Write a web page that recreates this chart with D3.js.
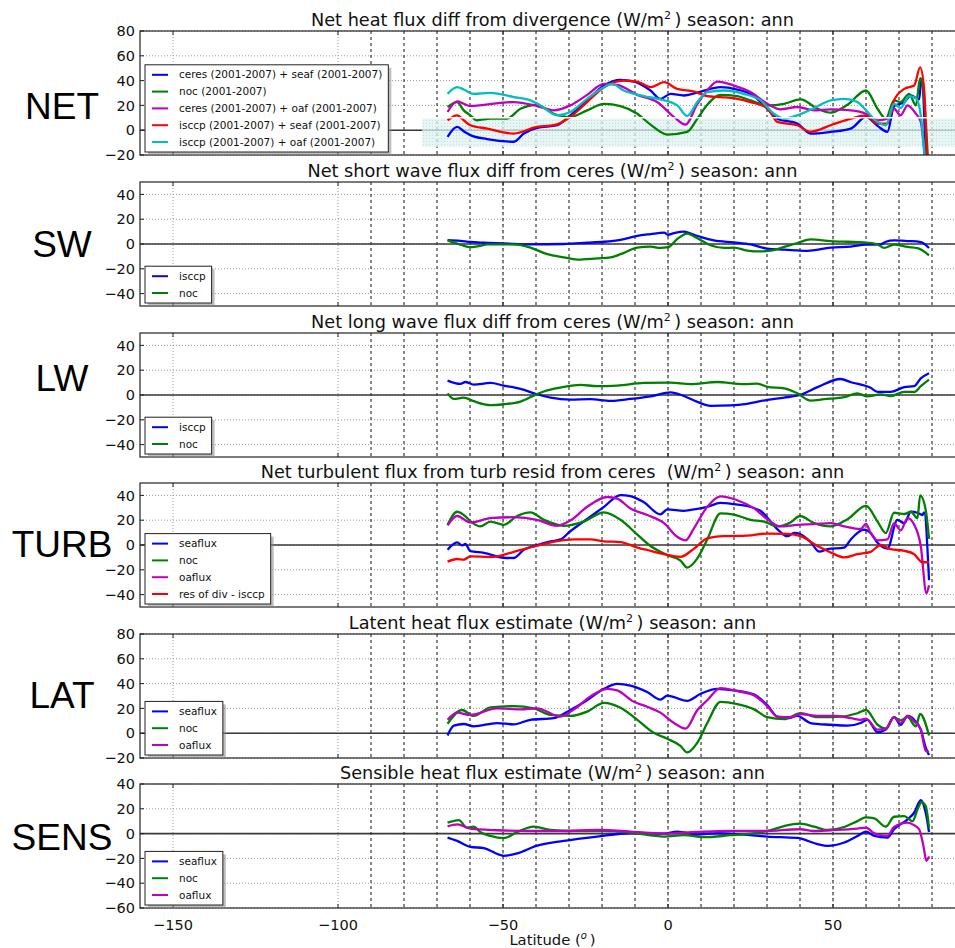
<!DOCTYPE html>
<html>
<head>
<meta charset="utf-8">
<script src="https://cdn.jsdelivr.net/npm/d3@7"></script>
<style>
  body { margin: 0; background: #fff; }
  svg { display: block; font-family: "DejaVu Sans", sans-serif; }
</style>
</head>
<body>
<div id="chart"></div>
<script>
// ---- values: [latitude, W/m2] ----
const netCeresSeaf = [[-66.8,-5.3],[-63.9,2.7],[-61.9,-0.8],[-59.9,-4],[-54.8,-7.2],[-46.7,-9.3],[-43.7,-2.7],[-39.7,1.9],[-33.6,4],[-29.6,12],[-24.5,24],[-19.4,36],[-14.4,40.5],[-10.3,39.2],[-5.3,32],[-2.3,25.3],[0.8,29.3],[4.8,28],[9.9,31.2],[15.9,34.7],[21,32.8],[25,29.3],[30.1,17.3],[33.1,9.3],[39.2,5.3],[43.2,-2.7],[49.3,-1.3],[55.4,1.3],[60,10.7],[63.5,3.5],[66.5,-1.3],[68.5,19.5],[71.6,22.7],[73.6,28],[76.1,24.8],[76.8,41.3],[78.3,-40]];
const netNoc = [[-66.8,18.7],[-63.9,22.7],[-61.9,16],[-59.9,12],[-57.9,8],[-53.8,9.3],[-48.8,9.3],[-44.7,17.3],[-39.7,20.5],[-34.6,13.3],[-29.6,10.7],[-24.5,16],[-19.4,21.3],[-14.4,19.5],[-9.3,13.3],[-5.3,4.5],[-0.2,-3.5],[5.8,-1.3],[8.9,9.3],[11.9,20.5],[15.9,28.5],[21,27.5],[25,24],[30.1,20],[35.2,21.3],[40.2,24.8],[45.3,17.3],[49.3,14.1],[54.4,20.5],[60,32],[63.5,17.3],[66,9.3],[68.5,24],[70.5,22.7],[73.1,29.3],[75.1,20],[76.4,41.9],[77.6,25.3],[79.1,-40]];
const netCeresOaf = [[-66.8,14.7],[-63.9,23.2],[-61.9,21.3],[-59.9,19.5],[-55.8,20.5],[-46.7,22.7],[-39.7,19.5],[-34.6,16],[-29.6,20],[-24.5,28.5],[-19.4,37.3],[-15.4,36.5],[-9.3,28.5],[-3.3,22.7],[1.8,10.7],[5.3,4.5],[8.9,21.3],[11.9,32],[14.9,39.2],[20,36],[25,30.7],[30.1,21.3],[34.1,16.8],[39.2,18.7],[44.3,16],[49.3,16.8],[55.4,16],[60,13.3],[63.5,8],[66.5,9.3],[68.5,17.3],[70.5,12],[72.6,20],[75.1,13.3],[76.6,6.7],[78.3,-40]];
const netIsccpSeaf = [[-66.8,8],[-63.9,12],[-61.9,8],[-59.9,4],[-54.8,1.3],[-46.7,-2.7],[-39.7,2.7],[-34.6,4],[-29.6,10.7],[-24.5,22.7],[-19.4,34.7],[-13.4,40],[-9.3,39.2],[-5.3,34.7],[-1.2,38.7],[2.8,33.3],[7.9,31.2],[11.9,27.5],[15.9,26.7],[21,25.3],[25,22.7],[30.1,17.9],[33.1,6.7],[39.2,4],[43.2,-1.3],[49.3,4],[55.4,9.3],[60,12],[63.5,5.3],[66.5,5.3],[68.5,24],[71.6,33.3],[74.6,36],[76.4,50.7],[77.6,33.3],[78.6,-40]];
const netIsccpOaf = [[-66.8,29.3],[-63.9,34.7],[-61.9,32.8],[-58.9,29.3],[-53.8,30.1],[-46.7,26.7],[-41.7,24],[-38.7,20],[-33.6,12],[-29.6,14.7],[-24.5,25.3],[-19.4,34.7],[-16.9,37.3],[-13.4,32],[-7.3,27.5],[-2.3,24.8],[2.8,20],[5.8,11.5],[8.9,22.7],[11.9,30.7],[16.9,32],[23,29.3],[28.1,24],[32.1,13.3],[35.2,9.3],[39.2,12],[44.3,17.9],[49.3,24],[53.4,25.3],[57.4,22.7],[60,16],[63.5,6.7],[66,4],[68.5,21.3],[70.5,17.9],[73.1,27.5],[75.1,25.9],[76.6,12],[78.3,-40]];
const netBandLat = [-74.5, 90];
const netBandVal = [-13.5, 10];

const swIsccp = [[-66.8,3.2],[-63,2.6],[-59.9,1.6],[-55.8,1],[-49.8,0.5],[-41.7,-0.3],[-31.6,0],[-24.5,1],[-19.4,1.8],[-14.4,3.4],[-9.3,6.6],[-5.3,8],[-1.2,9.2],[0,7.4],[1.8,8.7],[4.8,10],[7.9,7.4],[10.1,5.5],[13.9,2.9],[20,1.3],[25,-0.3],[30.1,-3.7],[35.2,-4.5],[42.2,-5.5],[49.3,-2.9],[55.4,-2.1],[60,-0.5],[64.5,-0.3],[66,1.8],[68.5,2.9],[72.6,2.4],[76.6,1.6],[79.1,-3.2]];
const swNoc = [[-66.8,2.9],[-62.9,-0.5],[-59.9,-2.6],[-56.9,-1.6],[-54.8,-0.3],[-49.8,-0.3],[-45.7,-0.5],[-41.7,-2.9],[-36.6,-8.2],[-31.6,-10.8],[-27.5,-12.6],[-21.5,-11.6],[-17.4,-10.8],[-13.4,-7.1],[-9.3,-2.9],[-5.3,-2.1],[-2.3,-3.2],[0,-2.6],[2.8,4],[5.8,8.4],[8.9,4.7],[12.9,-1],[17,-3.2],[20,-2.9],[24,-5.3],[28.1,-6],[31.1,-5.3],[35.2,-2.4],[39.2,0.8],[43.2,3.7],[49.3,2.4],[54.4,1.8],[59.4,1.3],[63.5,-0.3],[65.5,-3.2],[68.5,-0.5],[72.6,-2.4],[75.6,-3.4],[79.1,-9.2]];

const lwIsccp = [[-66.8,11.6],[-62.9,8.9],[-61.4,10.5],[-58.9,8.4],[-53.8,9.7],[-49.8,7.6],[-44.7,5],[-39.9,0.8],[-35.6,-2.1],[-29.6,-3.7],[-23.5,-3.4],[-17.4,-4.7],[-11.4,-3.2],[-5.3,-1.1],[0.8,2.1],[4.8,-0.8],[8.9,-5.5],[12.9,-8.7],[19,-8.4],[24,-7.1],[30.1,-3.9],[35.2,-2.1],[40,0],[45.3,6.3],[52.3,12.9],[55.4,10.3],[61.4,5.8],[63.5,2.6],[67.5,2.6],[71.6,6.3],[74.6,7.1],[76.6,13.4],[79.1,17.6]];
const lwNoc = [[-66.8,1.3],[-64.9,-3.2],[-61.9,-2.1],[-58.9,-5],[-53.8,-8.2],[-49.8,-7.4],[-44.7,-5.3],[-39.9,0.5],[-36.6,3.7],[-31.6,6.6],[-26.5,8.2],[-21.5,7.1],[-15.4,7.6],[-7.3,9.7],[0.8,10],[6.8,8.7],[14.9,10.5],[23,8.7],[27.1,9.2],[30.1,6.6],[35.2,5.3],[39.2,1.3],[43.2,-4.5],[47.3,-3.4],[53.4,-1.8],[57.4,1.3],[60.4,-1.1],[64.5,0.5],[67.5,-0.8],[71.6,2.6],[74.6,2.4],[76.6,7.1],[79.1,12.4]];

const turbSeaflux = [[-66.8,-3.9],[-63.9,2.1],[-62.4,-0.3],[-61.4,0.8],[-59.9,-5],[-55.8,-6.3],[-49.8,-10.3],[-46.7,-10.5],[-43.7,-3.9],[-39.9,-0.3],[-35.6,2.9],[-32.6,4.5],[-29.6,11.1],[-24.5,21],[-19.4,30.8],[-14.4,40.3],[-11.4,39.5],[-7.3,34.5],[-2.3,24.7],[-0.2,28.7],[4.8,27.6],[8.9,29.2],[11.9,30.8],[15.9,33.9],[20,32.9],[25,30.8],[28.1,27.4],[33.1,12.9],[36.2,7.1],[38.2,9.7],[40.2,8.7],[43.2,2.4],[45.8,-5.3],[48.3,-3.4],[53.4,-2.1],[55.4,4.5],[59.4,12.4],[61.4,9.7],[63.5,1.8],[66.5,-2.9],[69.5,20.3],[71.6,17.6],[73.6,26.8],[75.6,26],[77.1,24.2],[77.6,26.3],[79.1,-28.4]];
const turbNoc = [[-66.8,16.3],[-63.9,26.8],[-61.9,24.2],[-59.4,18.2],[-56.9,15],[-53.8,18.9],[-49.8,16.3],[-45.7,23.4],[-41.7,26.3],[-37.6,20.3],[-31.6,15.5],[-25.5,18.9],[-19.4,26.3],[-14.4,20.3],[-9.3,8.4],[-5.3,-0.8],[-0.2,-8.2],[3.8,-12.6],[5.8,-18.2],[8.9,-10.8],[11.9,4.5],[15.9,25.5],[20,24.5],[25,20.3],[29.1,18.9],[33.1,15],[37.2,18.4],[40,23.4],[44.3,17.6],[49.3,15],[54.4,20.8],[60,31.6],[63.5,18.9],[66,9.7],[68.5,26],[71.6,25],[73.6,26.8],[75.6,21.6],[76.4,40],[78.1,28.2],[79.1,5]];
const turbOaflux = [[-66.8,15.8],[-63.9,23.4],[-59.9,18.2],[-53.8,21.6],[-46.7,22.4],[-39.7,20.3],[-33.6,15.5],[-29.6,19.7],[-24.5,30.8],[-18.4,38.7],[-15.4,37.4],[-11.4,29.5],[-6.3,24.2],[-1.2,17.6],[2.8,6.6],[5.3,3.7],[7.9,13.7],[11.9,30.8],[15.9,39.2],[21,36.1],[26.1,29.5],[30.1,20.8],[34.1,15],[39.2,16.3],[44.3,16.8],[49.3,17.6],[53.4,15],[58.4,12.9],[60,17.1],[61.4,9.7],[63.5,3.7],[66.5,4.5],[68.5,17.6],[70.5,11.8],[72.6,21.6],[74.6,16.3],[76.6,-0.8],[78.3,-38.9],[79.1,-32.4]];
const turbResid = [[-66.8,-13.4],[-63.9,-11.3],[-61.9,-11.8],[-59.9,-9.2],[-53.8,-9.7],[-46.7,-5.5],[-39.9,-0.8],[-33.6,3.2],[-28.5,4.5],[-23.5,4.5],[-19.4,2.9],[-14.4,2.4],[-9.3,-2.1],[-5.3,-4.7],[-1.2,-7.4],[3.8,-9.5],[7.9,-2.9],[11.9,5.3],[17,7.1],[24,7.6],[30.1,9.2],[36.2,8.9],[40.2,7.1],[45.3,-0.8],[49.3,-6],[53.4,-10],[57.4,-7.4],[61.4,-5.5],[64.5,0],[67.5,-3.4],[71.6,-4.7],[74.6,-7.4],[77.1,-13.9],[79.1,-13.9]];

const latSeaflux = [[-66.8,-1.8],[-64.9,6.1],[-61.9,7.4],[-58.9,5.5],[-51.8,8.2],[-46.7,7.1],[-41.7,10.8],[-34.6,12.1],[-29.6,18.7],[-24.5,26.6],[-19.4,35.8],[-15.4,39.7],[-11.4,38.4],[-6.3,33.2],[-2.3,27.1],[-0.2,30.3],[5.8,26.1],[9.9,31.8],[14.9,35.8],[20,34.5],[26.1,31.1],[30.1,22.6],[33.1,13.4],[36.2,12.1],[39.2,13.9],[43.2,8.2],[49.3,6.8],[54.4,6.1],[58.4,8.2],[60.4,10.8],[63.5,0.8],[66,2.9],[68.5,12.9],[70.5,6.8],[72.6,13.9],[74.6,10.8],[76.6,2.9],[78.1,-11.6],[79.1,-17.6]];
const latNoc = [[-66.8,7.6],[-62.4,18.7],[-58.9,13.9],[-53.8,20.8],[-46.7,21.8],[-40.7,20],[-35.6,14.7],[-29.6,13.9],[-24.5,17.4],[-19.4,24.5],[-14.4,20.5],[-9.3,10.8],[-4.3,0.3],[-0.2,-4.5],[3.8,-10.3],[5.8,-15.5],[8.9,-7.6],[11.9,8.2],[15.9,25.3],[21,23.4],[26.1,19.2],[30.1,12.9],[35.2,11.3],[40.2,16.1],[45.3,12.9],[52.3,13.4],[57.4,16.1],[60,18.7],[63.5,6.8],[66,3.7],[68.5,12.9],[70.5,10.3],[72.6,12.9],[75.1,5.5],[76.4,15.5],[79.1,-1.8]];
const latOaflux = [[-66.8,10.8],[-63.9,16.6],[-59.9,14.7],[-51.8,20],[-44.7,19.2],[-39.7,20],[-32.6,13.4],[-28.5,19.2],[-23.5,29.7],[-18.4,35.8],[-15.4,34.5],[-10.3,25.3],[-6.3,21.3],[-2.3,16.6],[1.8,8.2],[5.3,3.7],[8.9,18.7],[11.9,26.6],[15.9,36.3],[21,33.9],[26.1,30.5],[30.1,21.8],[33.1,13.4],[37.2,12.9],[40.2,15.5],[45.3,13.9],[50.3,13.9],[55.4,12.1],[58.4,10.8],[60,11.8],[63.5,2.9],[66,3.7],[68.5,12.9],[70.5,8.2],[72.6,13.9],[74.6,9.5],[76.6,2.9],[78.1,-14.2],[79.1,-15]];

const sensSeaflux = [[-66.8,-3.2],[-63.9,-5.9],[-59.9,-10.7],[-55.8,-11.7],[-49.8,-17.9],[-45.7,-16],[-39.9,-9.9],[-31.6,-5.9],[-21.5,-2.4],[-11.4,0.3],[-1.2,0],[2.8,1.6],[8.9,-0.8],[14.9,0.3],[21,-0.5],[30.1,-2.4],[39.2,-3.5],[45.3,-8.5],[48.3,-9.9],[53.4,-7.2],[57.4,-1.9],[60,1.6],[62.5,-1.9],[66.5,-3.2],[68.5,3.5],[72.6,11.5],[74.6,16.8],[76.6,26.9],[78.1,16.8],[79.1,1.3]];
const sensNoc = [[-66.8,8.8],[-63.4,10.9],[-60.9,4.8],[-58.9,5.6],[-56.9,1.3],[-53.8,-1.9],[-49.8,-3.7],[-45.7,1.3],[-40.7,5.6],[-35.6,2.9],[-29.6,2.1],[-19.4,2.1],[-11.4,0.8],[-1.2,-2.4],[4.8,-1.3],[10.9,-2.9],[19,-1.3],[25,0],[30.1,2.1],[35.2,6.1],[40,8],[44.3,5.6],[48.3,2.9],[53.4,5.3],[57.4,10.1],[60,13.1],[62.5,12.3],[66,5.6],[68.5,13.6],[71.6,14.1],[74.1,10.1],[75.6,19.5],[76.8,25.3],[78.1,22.1],[79.1,4.8]];
const sensOaflux = [[-66.8,5.9],[-63.9,7.5],[-59.9,4],[-51.8,2.7],[-41.7,2.1],[-31.6,2.1],[-21.5,2.9],[-11.4,1.6],[-1.2,0],[8.9,1.3],[19,2.1],[29.1,2.1],[40,3.5],[44.3,2.1],[49.3,2.7],[57.4,4],[60,4.8],[62.5,0.3],[66.5,-1.9],[68.5,5.3],[72.6,8.8],[74.6,6.7],[76.1,3.5],[77.4,-9.9],[78.3,-21.9],[79.1,-18.4]];

const xTicks = [-150, -100, -50, 0, 50];
const dashedLats = [-90, -80, -70, -60, -50, -40, -30, -20, -10, 0, 10, 20, 30, 40, 50, 60, 70, 80, 90];

const C = { b: '#0000ff', g: '#008000', m: '#bf00bf', r: '#ff0000', c: '#00bfbf' };

const panels = [
  { label: 'NET', labelY: 119, top: 31, yDomain: [-20, 80], yTicks: [-20, 0, 20, 40, 60, 80],
    title: ['Net heat flux diff from divergence (W/m', ') season: ann'],
    series: [
      { name: 'ceres (2001-2007) + seaf (2001-2007)', color: C.b, data: netCeresSeaf },
      { name: 'noc (2001-2007)', color: C.g, data: netNoc },
      { name: 'ceres (2001-2007) + oaf (2001-2007)', color: C.m, data: netCeresOaf },
      { name: 'isccp (2001-2007) + seaf (2001-2007)', color: C.r, data: netIsccpSeaf },
      { name: 'isccp (2001-2007) + oaf (2001-2007)', color: C.c, data: netIsccpOaf }
    ], band: true },
  { label: 'SW', labelY: 257, top: 182, yDomain: [-50, 50], yTicks: [-40, -20, 0, 20, 40],
    title: ['Net short wave flux diff from ceres (W/m', ') season: ann'],
    series: [
      { name: 'isccp', color: C.b, data: swIsccp },
      { name: 'noc', color: C.g, data: swNoc }
    ] },
  { label: 'LW', labelY: 391, top: 333, yDomain: [-50, 50], yTicks: [-40, -20, 0, 20, 40],
    title: ['Net long wave flux diff from ceres (W/m', ') season: ann'],
    series: [
      { name: 'isccp', color: C.b, data: lwIsccp },
      { name: 'noc', color: C.g, data: lwNoc }
    ] },
  { label: 'TURB', labelY: 557, top: 483, yDomain: [-50, 50], yTicks: [-40, -20, 0, 20, 40],
    title: ['Net turbulent flux from turb resid from ceres\u00a0 (W/m', ') season: ann'],
    series: [
      { name: 'seaflux', color: C.b, data: turbSeaflux },
      { name: 'noc', color: C.g, data: turbNoc },
      { name: 'oaflux', color: C.m, data: turbOaflux },
      { name: 'res of div - isccp', color: C.r, data: turbResid }
    ] },
  { label: 'LAT', labelY: 708, top: 634, yDomain: [-20, 80], yTicks: [-20, 0, 20, 40, 60, 80],
    title: ['Latent heat flux estimate (W/m', ') season: ann'],
    series: [
      { name: 'seaflux', color: C.b, data: latSeaflux },
      { name: 'noc', color: C.g, data: latNoc },
      { name: 'oaflux', color: C.m, data: latOaflux }
    ] },
  { label: 'SENS', labelY: 850, top: 784, yDomain: [-60, 40], yTicks: [-60, -40, -20, 0, 20, 40],
    title: ['Sensible heat flux estimate (W/m', ') season: ann'],
    series: [
      { name: 'seaflux', color: C.b, data: sensSeaflux },
      { name: 'noc', color: C.g, data: sensNoc },
      { name: 'oaflux', color: C.m, data: sensOaflux }
    ], xAxis: true }
];

const width = 955;
const height = 948;
const panelH = 124;
const left = 140;
const right = 965;

const svg = d3.select('#chart')
  .append('svg')
  .attr('width', width)
  .attr('height', height)
  .style('background-color', '#fff');

const defs = svg.append('defs');
const pat = defs.append('pattern')
  .attr('id', 'dots')
  .attr('width', 3).attr('height', 3)
  .attr('patternUnits', 'userSpaceOnUse');
pat.append('rect').attr('width', 3).attr('height', 3).attr('fill', '#e0f2f2');
pat.append('rect').attr('width', 1).attr('height', 1).attr('fill', '#aad9d9');

const x = d3.scaleLinear().domain([-160, 90]).range([left, right]);

panels.forEach((p, i) => {
  const y = d3.scaleLinear().domain(p.yDomain).range([p.top + panelH, p.top]);
  const g = svg.append('g');

  defs.append('clipPath').attr('id', 'clip' + i)
    .append('rect')
    .attr('x', left).attr('y', p.top)
    .attr('width', right - left).attr('height', panelH);

  // grid
  g.selectAll('.hg').data(p.yTicks).enter().append('line')
    .attr('x1', left).attr('x2', right)
    .attr('y1', d => y(d)).attr('y2', d => y(d))
    .attr('stroke', '#9a9a9a').attr('stroke-width', 1).attr('stroke-dasharray', '1,2');
  g.selectAll('.vg').data(xTicks).enter().append('line')
    .attr('x1', d => x(d)).attr('x2', d => x(d))
    .attr('y1', p.top).attr('y2', p.top + panelH)
    .attr('stroke', '#9a9a9a').attr('stroke-width', 1).attr('stroke-dasharray', '1,2');
  g.selectAll('.dl').data(dashedLats).enter().append('line')
    .attr('x1', d => x(d)).attr('x2', d => x(d))
    .attr('y1', p.top).attr('y2', p.top + panelH)
    .attr('stroke', '#111').attr('stroke-width', 1).attr('stroke-dasharray', '3,3');

  // zero line
  g.append('line')
    .attr('x1', left).attr('x2', right)
    .attr('y1', y(0)).attr('y2', y(0))
    .attr('stroke', '#3a3a3a').attr('stroke-width', 1.6);

  if (p.band) {
    g.append('rect')
      .attr('x', x(netBandLat[0])).attr('width', x(netBandLat[1]) - x(netBandLat[0]))
      .attr('y', y(netBandVal[1])).attr('height', y(netBandVal[0]) - y(netBandVal[1]))
      .attr('fill', 'url(#dots)').attr('opacity', 0.75);
  }

  const line = d3.line()
    .x(d => x(d[0]))
    .y(d => y(d[1]))
    .curve(d3.curveMonotoneX);

  g.append('g').attr('clip-path', `url(#clip${i})`)
    .selectAll('path')
    .data(p.series)
    .enter()
    .append('path')
    .attr('d', d => line(d.data))
    .attr('fill', 'none')
    .attr('stroke', d => d.color)
    .attr('stroke-width', 2.3)
    .attr('stroke-linejoin', 'round');

  if (p.band) {
    g.append('line')
      .attr('x1', x(netBandLat[0])).attr('x2', right)
      .attr('y1', y(netBandVal[1])).attr('y2', y(netBandVal[1]))
      .attr('stroke', '#fff').attr('stroke-width', 1.5);
  }

  // frame and ticks
  g.append('rect')
    .attr('x', left).attr('y', p.top)
    .attr('width', right - left).attr('height', panelH)
    .attr('fill', 'none').attr('stroke', '#222').attr('stroke-width', 1.2);
  g.selectAll('.yt').data(p.yTicks).enter().append('line')
    .attr('x1', left).attr('x2', left + 4)
    .attr('y1', d => y(d)).attr('y2', d => y(d))
    .attr('stroke', '#222');
  g.selectAll('.xt').data(xTicks).enter().append('line')
    .attr('x1', d => x(d)).attr('x2', d => x(d))
    .attr('y1', p.top + panelH).attr('y2', p.top + panelH - 4)
    .attr('stroke', '#222');
  g.selectAll('.xt2').data(xTicks).enter().append('line')
    .attr('x1', d => x(d)).attr('x2', d => x(d))
    .attr('y1', p.top).attr('y2', p.top + 4)
    .attr('stroke', '#222');

  g.selectAll('.yl').data(p.yTicks).enter().append('text')
    .attr('x', left - 5)
    .attr('y', d => y(d))
    .attr('dy', '0.36em')
    .attr('text-anchor', 'end')
    .attr('font-size', '14.5px')
    .attr('fill', '#111')
    .text(d => d3.format('d')(d).replace('-', '\u2212'));

  // title
  const t = g.append('text')
    .attr('x', (left + right) / 2)
    .attr('y', p.top - 5.5)
    .attr('text-anchor', 'middle')
    .attr('font-size', '17.7px')
    .attr('fill', '#111');
  t.append('tspan').text(p.title[0]);
  t.append('tspan').attr('dy', -7).attr('font-size', '11px').text('2');
  t.append('tspan').attr('dy', 7).text('\u2009' + p.title[1]);

  // big row label
  svg.append('text')
    .attr('x', 62)
    .attr('y', p.labelY)
    .attr('text-anchor', 'middle')
    .attr('font-family', '"Liberation Sans", Arial, sans-serif')
    .attr('font-size', '37px')
    .attr('fill', '#000')
    .text(p.label);

  // legend, lower left
  const rowH = 16.8;
  const n = p.series.length;
  const boxH = 20 + (n - 1) * rowH;
  const bx = left + 5;
  const by = p.top + panelH - 3 - boxH;
  const lg = g.append('g');
  const shadow = lg.append('rect').attr('fill', '#888').attr('opacity', 0.55);
  const box = lg.append('rect').attr('fill', '#fff').attr('stroke', '#222').attr('stroke-width', 1);
  let maxW = 0;
  p.series.forEach((s, k) => {
    const cy = by + 10 + k * rowH;
    lg.append('line')
      .attr('x1', bx + 7).attr('x2', bx + 23)
      .attr('y1', cy).attr('y2', cy)
      .attr('stroke', s.color).attr('stroke-width', 2);
    const tx = lg.append('text')
      .attr('x', bx + 34).attr('y', cy).attr('dy', '0.35em')
      .attr('font-size', '10.5px').attr('fill', '#111')
      .text(s.name);
    maxW = Math.max(maxW, tx.node().getComputedTextLength());
  });
  const boxW = 34 + maxW + 6;
  box.attr('x', bx).attr('y', by).attr('width', boxW).attr('height', boxH);
  shadow.attr('x', bx + 3).attr('y', by + 3).attr('width', boxW).attr('height', boxH);

  if (p.xAxis) {
    g.selectAll('.xl').data(xTicks).enter().append('text')
      .attr('x', d => x(d))
      .attr('y', p.top + panelH + 22)
      .attr('text-anchor', 'middle')
      .attr('font-size', '14.5px')
      .attr('fill', '#111')
      .text(d => d3.format('d')(d).replace('-', '\u2212'));
    const xl = g.append('text')
      .attr('x', (left + right) / 2)
      .attr('y', 945)
      .attr('text-anchor', 'middle')
      .attr('font-size', '14.8px')
      .attr('fill', '#111');
    xl.append('tspan').text('Latitude (');
    xl.append('tspan').attr('dy', -6).attr('font-size', '10px').attr('font-style', 'italic').text('o');
    xl.append('tspan').attr('dy', 6).text('\u2009)');
  }
});
</script>
</body>
</html>
